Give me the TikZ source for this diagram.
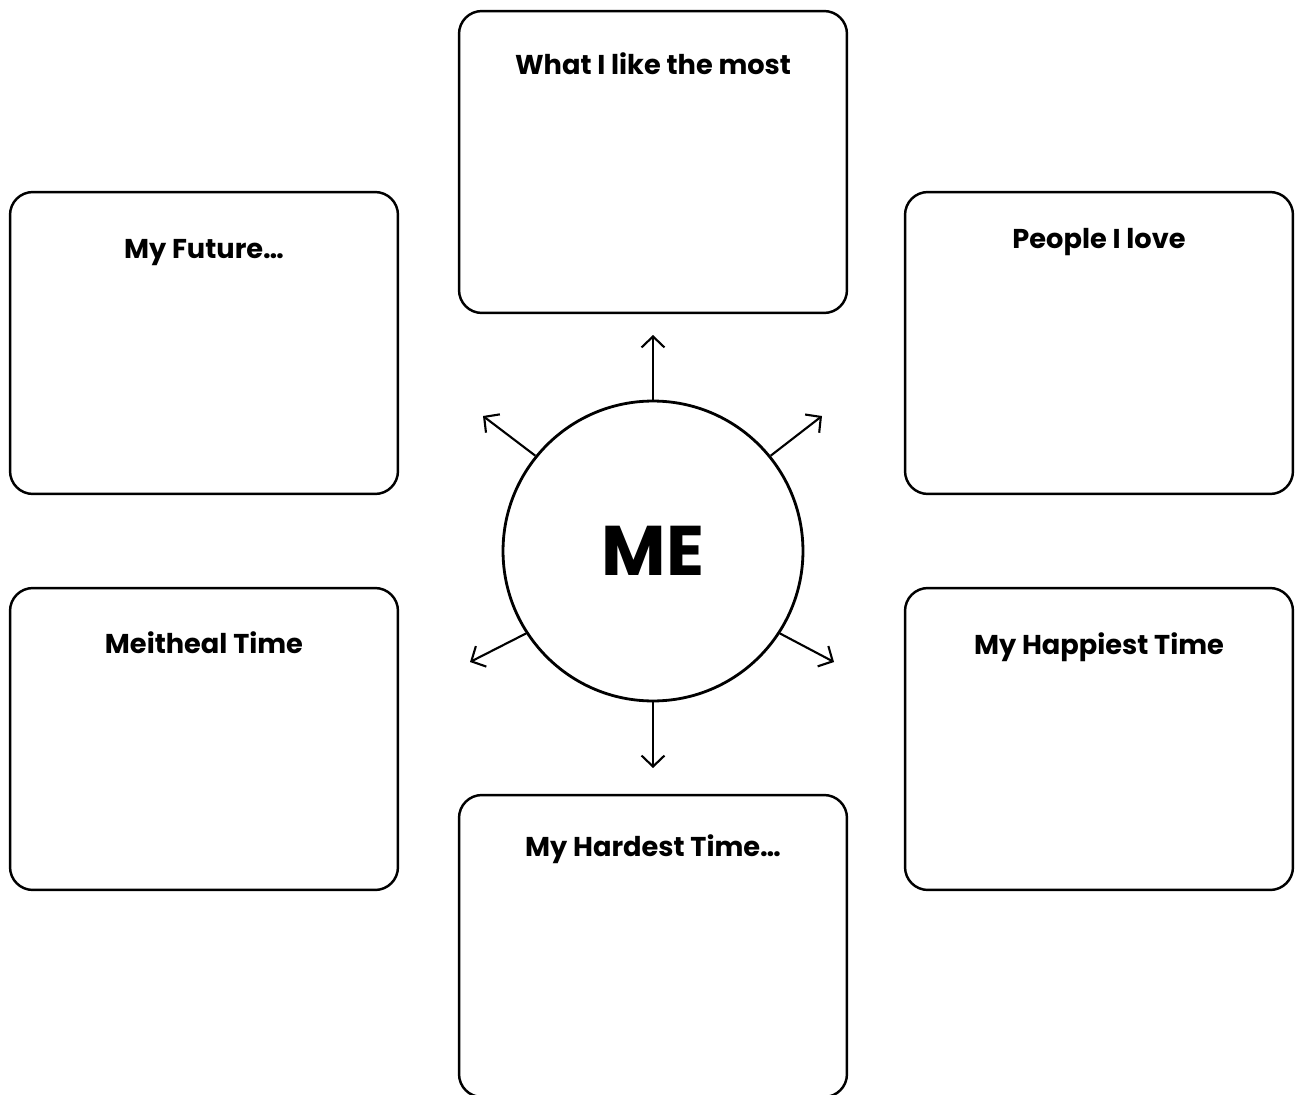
\documentclass[tikz,border=0pt]{standalone}
\usepackage{fontspec}
\setmainfont{Poppins}
\usepackage{tikz}
\usetikzlibrary{arrows.meta,positioning,calc}
\definecolor{SheetInk}{HTML}{000000}
\tikzset{
	card/.style={draw=SheetInk,line width=1.4pt,rounded corners=13pt,minimum width=7.76cm,minimum height=6.04cm,inner sep=0pt},
	cardtitle/.style={anchor=base,inner sep=0pt,text=SheetInk,font=\bfseries\fontsize{15.5}{18}\selectfont},
	spoke/.style={draw=SheetInk,line width=1.2pt,-{Straight Barb[length=2.2mm,width=4.6mm]}}
}

\begin{document}
\begin{tikzpicture}[x=0.02cm,y=-0.02cm]
		\useasboundingbox (0,0) rectangle (1295,1095);
		\clip (0,0) rectangle (1295,1095);
		\node[card] (most) at (653,162) {};
		\node[card] (future) at (204,343) {};
		\node[card] (love) at (1099,343) {};
		\node[card] (meitheal) at (204,739) {};
		\node[card] (happiest) at (1099,739) {};
		\node[card] (hardest) at (653,946) {};
		\foreach \c/\off/\txt in {most/65/What I like the most,future/68/My Future…,love/58/People I love,meitheal/67/Meitheal Time,happiest/68/My Happiest Time,hardest/63/My Hardest Time…}
			\node[cardtitle] (\c-title) at ($(\c.north)+(0,\off)$) {\txt};
		\node[draw=SheetInk,circle,line width=1.6pt,minimum size=6cm,inner sep=0pt,font=\bfseries\fontsize{40}{44}\selectfont] (me) at (653,551) {ME};
		\coordinate (tipN) at (653,335);
		\coordinate (tipNW) at (483,416);
		\coordinate (tipNE) at (822,416);
		\coordinate (tipSW) at (470,662);
		\coordinate (tipSE) at (834,662);
		\coordinate (tipS) at (653,768);
		\foreach \a/\t in {90/N,141/NW,39/NE,213/SW,-33/SE,270/S} \draw[spoke] (me.\a) -- (tip\t);
	\end{tikzpicture}
\end{document}
